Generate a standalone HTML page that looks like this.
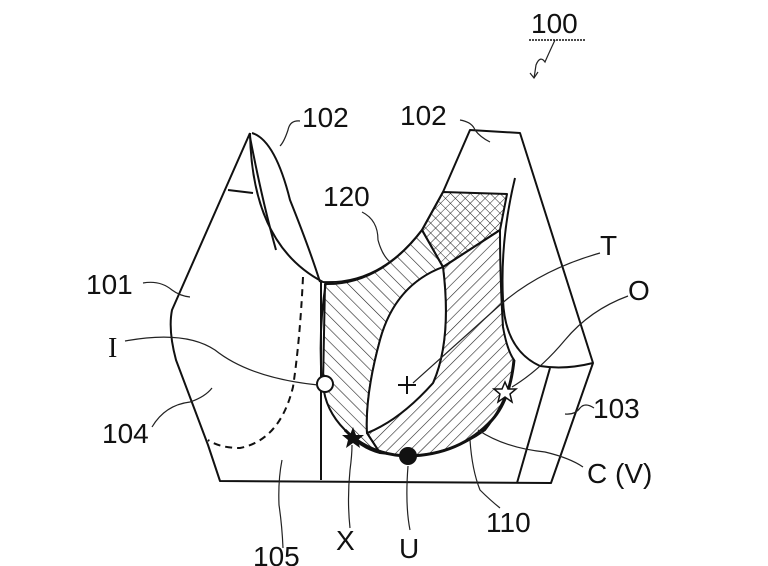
<!DOCTYPE html>
<html><head><style>
html,body{margin:0;padding:0;background:#fff;}
svg{display:block}
text{font-family:"Liberation Sans",sans-serif;font-size:28px;fill:#111}
</style></head><body>
<svg width="768" height="566" viewBox="0 0 768 566" xmlns="http://www.w3.org/2000/svg">
<defs>
<pattern id="hb" patternUnits="userSpaceOnUse" width="9" height="9" patternTransform="rotate(-45)"><line x1="0" y1="0" x2="0" y2="9" stroke="#222" stroke-width="1.2"/></pattern>
<pattern id="hf" patternUnits="userSpaceOnUse" width="8" height="8" patternTransform="rotate(45)"><line x1="0" y1="0" x2="0" y2="8" stroke="#222" stroke-width="1.2"/></pattern>
<pattern id="hx" patternUnits="userSpaceOnUse" width="7" height="7" patternTransform="rotate(45)"><line x1="0" y1="0" x2="0" y2="7" stroke="#222" stroke-width="1"/><line x1="0" y1="0" x2="7" y2="0" stroke="#222" stroke-width="1"/></pattern>
</defs>
<g fill="none" stroke="#111" stroke-width="2" stroke-linejoin="round">
<path d="M250,133 L172,310 Q168,330 176,360 L208,445 L220,481 L551,483 L593,363 L520,133 L470,130 L443,192"/>
<path d="M250,133 Q252,245 323,282 Q380,285 422,230 L443,192"/>
<path d="M252,133 Q275,140 290,200 Q310,250 320,282"/>
<path d="M250,137 Q262,200 276,250"/>
<path d="M228,190 L253,193"/>
<path d="M321,282 L321,480"/>
<path d="M326,282 Q318,330 322,384"/>
<path d="M443,192 L507,194 L500,230 L443,267 L422,230 Z" fill="url(#hx)"/>
<path d="M325,284 Q380,285 422,230 L443,267 Q395,285 380,340 Q365,395 367,433 L380,453 Q360,448 345,430 Q325,410 323,384 Z" fill="url(#hb)"/>
<path d="M443,267 L500,230 Q500,280 503,327 Q507,350 514,360 Q512,395 485,430 Q450,455 408,456 L380,453 L367,433 Q400,420 433,383 Q452,340 443,267 Z" fill="url(#hf)"/>
<path d="M443,267 Q395,285 380,340 Q365,395 367,433 Q400,420 433,383 Q452,340 443,267 Z" fill="#fff"/>
<path d="M345,430 Q370,455 408,456 Q460,455 492,420 Q510,400 514,360" stroke-width="3"/>
<path d="M515,178 Q500,240 503,300 Q505,350 540,366 Q565,370 593,363"/>
<path d="M550,368 L517,483"/>
<path d="M303,277 Q300,340 293,387 Q280,440 240,448 Q220,448 208,440" stroke-dasharray="7,5"/>
</g>
<circle cx="325" cy="384" r="8" fill="#fff" stroke="#111" stroke-width="2"/>
<circle cx="408" cy="456" r="9" fill="#111"/>
<path d="M407,376 V394 M398,385 H416" stroke="#111" stroke-width="2"/>
<polygon points="353,427 356,435 364,435 358,440 360,448 353,443 346,448 348,440 342,435 350,435" fill="#111"/>
<polygon points="505,382 508,389 516,389 510,394 512,402 505,397 498,402 500,394 494,389 502,389" fill="#fff" stroke="#111" stroke-width="1.5"/>
<g fill="none" stroke="#222" stroke-width="1.2">
<path d="M555,40 Q548,55 545,62 Q540,55 536,65 Q535,72 534,78"/>
<path d="M530,73 L534,78 L538,72"/>
<path d="M300,121 Q290,120 288,130 Q284,142 280,146"/>
<path d="M460,120 Q472,122 475,130 Q480,137 490,142"/>
<path d="M362,212 Q378,220 378,240 Q382,255 390,262"/>
<path d="M143,283 Q160,280 172,290 Q180,296 190,297"/>
<path d="M125,341 Q185,330 215,350 Q250,378 318,385"/>
<path d="M152,427 Q165,405 190,402 Q205,397 212,388"/>
<path d="M283,548 Q282,525 279,505 Q278,480 282,460"/>
<path d="M600,253 Q540,270 500,305 Q450,350 413,383"/>
<path d="M628,296 Q590,310 565,340 Q540,370 512,387"/>
<path d="M594,408 Q585,402 580,408 Q575,415 565,414"/>
<path d="M583,467 Q570,458 545,452 Q505,448 478,430"/>
<path d="M500,508 Q490,500 480,490 Q472,470 470,440"/>
<path d="M410,530 Q405,505 408,466"/>
<path d="M350,528 Q347,500 350,470 Q352,455 352,445"/>
</g>
<text x="531" y="33">100</text>
<line x1="529" y1="40" x2="586" y2="40" stroke="#111" stroke-width="1.5" stroke-dasharray="2,1"/>
<text x="302" y="127">102</text>
<text x="400" y="125">102</text>
<text x="323" y="206">120</text>
<text x="86" y="294">101</text>
<text x="108" y="357" style="font-family:'Liberation Serif',serif">I</text>
<text x="102" y="443">104</text>
<text x="253" y="566">105</text>
<text x="336" y="550">X</text>
<text x="399" y="558">U</text>
<text x="486" y="532">110</text>
<text x="587" y="483">C (V)</text>
<text x="593" y="418">103</text>
<text x="600" y="255">T</text>
<text x="628" y="300">O</text>
</svg>
</body></html>
